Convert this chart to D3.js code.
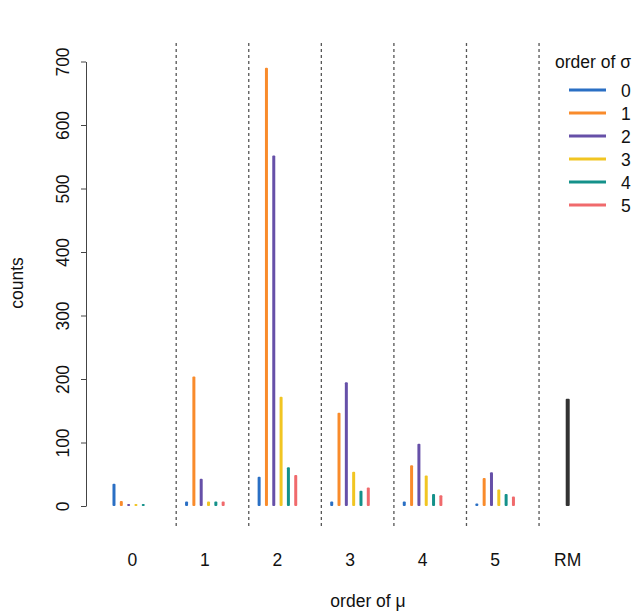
<!DOCTYPE html>
<html>
<head>
<meta charset="utf-8">
<script src="https://cdn.jsdelivr.net/npm/d3@7"></script>
<style>
  body { margin: 0; background: #fff; }
  text { font-family: "Liberation Sans", Arial, sans-serif; fill: #111; }
</style>
</head>
<body>
<svg width="640" height="614"></svg>
<script>
// order of mu groups and order of sigma series
const groups = ["0", "1", "2", "3", "4", "5", "RM"];
const sigmaOrders = ["0", "1", "2", "3", "4", "5"];
const colors = ["#2a6fc4", "#f98b2b", "#6650a8", "#f1c522", "#14918a", "#f06a6c"];

// counts per sigma order, one entry per mu group 0..5
const sigma0 = [35, 7, 46, 7, 7, 4];
const sigma1 = [8, 204, 690, 147, 64, 44];
const sigma2 = [3, 43, 552, 195, 98, 53];
const sigma3 = [3, 7, 172, 54, 48, 26];
const sigma4 = [3, 7, 61, 24, 19, 19];
const sigma5 = [0, 7, 49, 29, 17, 15];
const rmCount = 169;
const yTicks = [0, 100, 200, 300, 400, 500, 600, 700];

const series = [sigma0, sigma1, sigma2, sigma3, sigma4, sigma5];
const fontSize = "17.5px";

const svg = d3.select("svg");

const xScale = d3.scaleBand()
    .domain(groups)
    .range([96, 604])
    .padding(0);

const inner = d3.scalePoint()
    .domain(sigmaOrders)
    .range([-18.3, 18.3]);

const yScale = d3.scaleLinear()
    .domain([0, 700])
    .range([506, 61.5]);

function cx(g) { return xScale(g) + xScale.bandwidth() / 2; }

// dashed separators
groups.slice(0, -1).forEach(g => {
    svg.append("line")
        .attr("x1", cx(g) + xScale.step() * 0.605)
        .attr("x2", cx(g) + xScale.step() * 0.605)
        .attr("y1", 43)
        .attr("y2", 526)
        .attr("stroke", "#555")
        .attr("stroke-width", 1.3)
        .attr("stroke-dasharray", "3,3");
});

// y axis
const yAxis = d3.axisLeft(yScale)
    .tickValues(yTicks)
    .tickSize(5)
    .tickSizeOuter(0);

const yg = svg.append("g")
    .attr("transform", "translate(86,0)")
    .call(yAxis);
yg.select(".domain").attr("stroke", "#444");
yg.selectAll(".tick line").attr("stroke", "#444");
yg.selectAll(".tick text")
    .attr("transform", "rotate(-90)")
    .attr("x", 0)
    .attr("y", -17.5)
    .attr("dy", 0)
    .attr("text-anchor", "middle")
    .style("font-size", fontSize)
    .style("font-family", "Liberation Sans, Arial, sans-serif")
    .attr("fill", "#111");

// bars
series.forEach((vals, si) => {
    vals.forEach((v, gi) => {
        if (v <= 0) return;
        const x = cx(groups[gi]) + inner(sigmaOrders[si]);
        svg.append("rect")
            .attr("x", x - 1.5)
            .attr("y", yScale(v))
            .attr("width", 3)
            .attr("height", yScale(0) - yScale(v))
            .attr("rx", 1)
            .attr("fill", colors[si]);
    });
});

// RM bar
svg.append("rect")
    .attr("x", cx("RM") - 2)
    .attr("y", yScale(rmCount))
    .attr("width", 4)
    .attr("height", yScale(0) - yScale(rmCount))
    .attr("rx", 1)
    .attr("fill", "#333");

// x labels
groups.forEach(g => {
    svg.append("text")
        .attr("x", cx(g))
        .attr("y", 566)
        .attr("text-anchor", "middle")
        .style("font-size", fontSize)
        .text(g);
});

svg.append("text")
    .attr("x", 368)
    .attr("y", 607)
    .attr("text-anchor", "middle")
    .style("font-size", fontSize)
    .text("order of \u03bc");

svg.append("text")
    .attr("transform", "translate(23,283) rotate(-90)")
    .attr("text-anchor", "middle")
    .style("font-size", fontSize)
    .text("counts");

// legend
svg.append("text")
    .attr("x", 555)
    .attr("y", 68)
    .style("font-size", fontSize)
    .text("order of \u03c3");

sigmaOrders.forEach((s, i) => {
    const y = 90 + i * 23;
    svg.append("line")
        .attr("x1", 569)
        .attr("x2", 606)
        .attr("y1", y)
        .attr("y2", y)
        .attr("stroke", colors[i])
        .attr("stroke-width", 3);
    svg.append("text")
        .attr("x", 621)
        .attr("y", y + 6.5)
        .style("font-size", fontSize)
        .text(s);
});
</script>
</body>
</html>
